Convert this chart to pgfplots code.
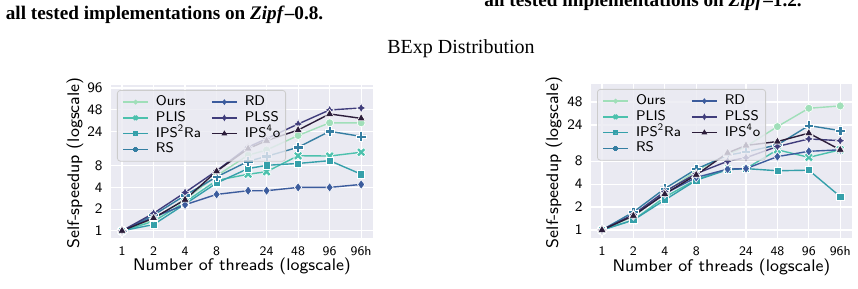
\documentclass[border=0pt]{standalone}
\usepackage{fontspec}
\usepackage{pgfplots}
\usepackage{pgfplotstable}
\pgfplotsset{compat=1.18}
\newfontfamily\capfont{Liberation Serif}

\definecolor{bgc}{HTML}{EAEAF2}
\definecolor{legedge}{HTML}{CCCCCC}
\definecolor{cOurs}{HTML}{A0DFB9}
\definecolor{cPLIS}{HTML}{4CC1AD}
\definecolor{cIPSRa}{HTML}{35A0AA}
\definecolor{cRS}{HTML}{357EA2}
\definecolor{cRD}{HTML}{3C5C9D}
\definecolor{cPLSS}{HTML}{403D7C}
\definecolor{cIPSo}{HTML}{2C1D3A}

% filled plus
\pgfdeclareplotmark{Pfill}{%
  \pgfpathmoveto{\pgfqpoint{-0.333\pgfplotmarksize}{-\pgfplotmarksize}}%
  \pgfpathlineto{\pgfqpoint{0.333\pgfplotmarksize}{-\pgfplotmarksize}}%
  \pgfpathlineto{\pgfqpoint{0.333\pgfplotmarksize}{-0.333\pgfplotmarksize}}%
  \pgfpathlineto{\pgfqpoint{\pgfplotmarksize}{-0.333\pgfplotmarksize}}%
  \pgfpathlineto{\pgfqpoint{\pgfplotmarksize}{0.333\pgfplotmarksize}}%
  \pgfpathlineto{\pgfqpoint{0.333\pgfplotmarksize}{0.333\pgfplotmarksize}}%
  \pgfpathlineto{\pgfqpoint{0.333\pgfplotmarksize}{\pgfplotmarksize}}%
  \pgfpathlineto{\pgfqpoint{-0.333\pgfplotmarksize}{\pgfplotmarksize}}%
  \pgfpathlineto{\pgfqpoint{-0.333\pgfplotmarksize}{0.333\pgfplotmarksize}}%
  \pgfpathlineto{\pgfqpoint{-\pgfplotmarksize}{0.333\pgfplotmarksize}}%
  \pgfpathlineto{\pgfqpoint{-\pgfplotmarksize}{-0.333\pgfplotmarksize}}%
  \pgfpathlineto{\pgfqpoint{-0.333\pgfplotmarksize}{-0.333\pgfplotmarksize}}%
  \pgfpathclose\pgfusepathqfillstroke}
% filled cross
\pgfdeclareplotmark{Xfill}{%
  \pgfpathmoveto{\pgfqpoint{-0.5\pgfplotmarksize}{-\pgfplotmarksize}}%
  \pgfpathlineto{\pgfqpoint{0pt}{-0.5\pgfplotmarksize}}%
  \pgfpathlineto{\pgfqpoint{0.5\pgfplotmarksize}{-\pgfplotmarksize}}%
  \pgfpathlineto{\pgfqpoint{\pgfplotmarksize}{-0.5\pgfplotmarksize}}%
  \pgfpathlineto{\pgfqpoint{0.5\pgfplotmarksize}{0pt}}%
  \pgfpathlineto{\pgfqpoint{\pgfplotmarksize}{0.5\pgfplotmarksize}}%
  \pgfpathlineto{\pgfqpoint{0.5\pgfplotmarksize}{\pgfplotmarksize}}%
  \pgfpathlineto{\pgfqpoint{0pt}{0.5\pgfplotmarksize}}%
  \pgfpathlineto{\pgfqpoint{-0.5\pgfplotmarksize}{\pgfplotmarksize}}%
  \pgfpathlineto{\pgfqpoint{-\pgfplotmarksize}{0.5\pgfplotmarksize}}%
  \pgfpathlineto{\pgfqpoint{-0.5\pgfplotmarksize}{0pt}}%
  \pgfpathlineto{\pgfqpoint{-\pgfplotmarksize}{-0.5\pgfplotmarksize}}%
  \pgfpathclose\pgfusepathqfillstroke}
% four-pointed star
\pgfdeclareplotmark{star4}{%
  \pgfpathmoveto{\pgfqpoint{0pt}{\pgfplotmarksize}}%
  \pgfpathlineto{\pgfqpoint{-0.354\pgfplotmarksize}{0.354\pgfplotmarksize}}%
  \pgfpathlineto{\pgfqpoint{-\pgfplotmarksize}{0pt}}%
  \pgfpathlineto{\pgfqpoint{-0.354\pgfplotmarksize}{-0.354\pgfplotmarksize}}%
  \pgfpathlineto{\pgfqpoint{0pt}{-\pgfplotmarksize}}%
  \pgfpathlineto{\pgfqpoint{0.354\pgfplotmarksize}{-0.354\pgfplotmarksize}}%
  \pgfpathlineto{\pgfqpoint{\pgfplotmarksize}{0pt}}%
  \pgfpathlineto{\pgfqpoint{0.354\pgfplotmarksize}{0.354\pgfplotmarksize}}%
  \pgfpathclose\pgfusepathqfillstroke}

% self-speedup, Zipf-0.8
\pgfplotstableread{
x    Ours  PLIS  IPSRa RS    RD   PLSS  IPSo
1    1     1     1     1     1    1     1
2    1.45  1.35  1.22  1.65  1.55 1.75  1.50
4    2.75  2.5   2.35  3.1   2.3  3.4   2.7
8    5.8   5.0   4.6   5.6   3.2  6.8   6.7
16   11.2  6.1   7.3   9.2   3.6  14.5  13.8
24   13.2  6.6   8.1   10.8  3.6  19.0  17.8
48   21.0  11.0  8.6   14.4  4.0  30.3  25.0
96   31.5  10.9  9.4   24.0  4.0  47.5  41.8
192  31.5  12.3  6.1   20.4  4.4  50.6  36.3
}\zipfA
% self-speedup, Zipf-1.2
\pgfplotstableread{
x    Ours  PLIS  IPSRa RS    RD   PLSS  IPSo
1    1     1     1     1     1    1     1
2    1.5   1.35  1.35  1.72  1.55 1.6   1.54
4    3.1   2.7   2.48  3.5   3.0  3.2   2.97
8    6.0   4.6   4.5   6.3   4.9  5.5   5.3
16   9.8   6.3   6.2   9.6   6.3  8.0   10.3
24   12.5  6.4   6.4   10.6  6.4  8.9   12.9
48   22.8  11.3  6.0   13.1  9.2  12.5  14.5
96   39.7  9.0   6.1   23.5  10.8 15.7  18.7
192  42.6  11.3  2.75  20.2  11.3 14.9  11.3
}\zipfB

% options shared by both panels
\pgfplotsset{every axis/.append style={
    scale only axis,
    xmin=0.785, xmax=249,
    xtick={1,2,4,8,24,48,96,192},
    xticklabels={1,2,4,8,24,48,96,96h},
    axis background/.style={fill=bgc},
    grid=major, major grid style={white, line width=0.6pt},
    axis line style={draw=none},
    major tick length=0pt, minor tick length=0pt,
    tick label style={inner sep=0pt},
    xticklabel style={font=\sffamily\fontsize{6.5}{7.5}\selectfont, anchor=center, yshift=-6.5pt},
    yticklabel style={font=\sffamily\fontsize{7.2}{8}\selectfont, anchor=east, xshift=-4pt},
    label style={font=\sffamily\fontsize{8.4}{10}\selectfont},
    xlabel style={at={(axis description cs:0.5,-0.188)}, anchor=center},
    legend columns=2,
    legend cell align=left,
    legend style={at={(0,1)}, anchor=north west, xshift=3pt, yshift=-2.5pt,
      fill=bgc, fill opacity=0.8, draw=legedge, draw opacity=1, text opacity=1,
      line width=0.4pt, rounded corners=1.5pt, inner sep=2pt,
      font=\sffamily\fontsize{7}{8}\selectfont,
      nodes={inner sep=0.6pt, text height=5pt, text depth=1.5pt},
      row sep=0.2pt,
      /tikz/every even column/.append style={column sep=4pt}},
  },
  every axis plot/.append style={line width=0.7pt},
  legend image code/.code={%
    \path (-0.5pt,0pt) (15.5pt,0pt);
    \draw[mark repeat=2, mark phase=2] plot coordinates {(0pt,0pt) (6.25pt,0pt) (12.5pt,0pt)};},
}

\newcommand\legendentries{%
  \addlegendimage{color=cOurs, mark=*, mark size=0.8pt, mark options={draw=none, fill=cOurs}}\addlegendentry{Ours}
  \addlegendimage{color=cRD, mark=diamond*, mark size=0.9pt, mark options={draw=none, fill=cRD}}\addlegendentry{RD}
  \addlegendimage{color=cPLIS, mark=Xfill, mark size=0.9pt, mark options={draw=none, fill=cPLIS}}\addlegendentry{PLIS}
  \addlegendimage{color=cPLSS, mark=star4, mark size=1pt, mark options={draw=none, fill=cPLSS}}\addlegendentry{PLSS}
  \addlegendimage{color=cIPSRa, mark=square*, mark size=0.8pt, mark options={draw=none, fill=cIPSRa}}\addlegendentry{IPS\textsuperscript{2}Ra}
  \addlegendimage{color=cIPSo, mark=triangle*, mark size=1pt, mark options={draw=none, fill=cIPSo}}\addlegendentry{IPS\textsuperscript{4}o}
  \addlegendimage{color=cRS, mark=Pfill, mark size=1pt, mark options={draw=none, fill=cRS}}\addlegendentry{RS}
}

\newcommand\speedupplots[1]{%
  \addplot[color=cOurs, mark=*, mark size=2pt, mark options={draw=white, fill=cOurs, line width=0.3pt}, forget plot] table[x=x, y=Ours] {#1};
  \addplot[color=cPLIS, mark=Xfill, mark size=2.3pt, mark options={draw=white, fill=cPLIS, line width=0.3pt}, forget plot] table[x=x, y=PLIS] {#1};
  \addplot[color=cIPSRa, mark=square*, mark size=1.8pt, mark options={draw=white, fill=cIPSRa, line width=0.3pt}, forget plot] table[x=x, y=IPSRa] {#1};
  \addplot[color=cRS, mark=Pfill, mark size=2.4pt, mark options={draw=white, fill=cRS, line width=0.3pt}, forget plot] table[x=x, y=RS] {#1};
  \addplot[color=cRD, mark=diamond*, mark size=2.4pt, mark options={draw=white, fill=cRD, line width=0.3pt}, forget plot] table[x=x, y=RD] {#1};
  \addplot[color=cPLSS, mark=star4, mark size=2.4pt, mark options={draw=white, fill=cPLSS, line width=0.3pt}, forget plot] table[x=x, y=PLSS] {#1};
  \addplot[color=cIPSo, mark=triangle*, mark size=2.4pt, mark options={draw=white, fill=cIPSo, line width=0.3pt}, forget plot] table[x=x, y=IPSo] {#1};
}

\begin{document}
\begin{tikzpicture}
\path[use as bounding box] (0pt,0pt) rectangle (429pt,144.5pt);

\node[anchor=base west, font=\capfont\bfseries\fontsize{9.6}{11}\selectfont, inner sep=0pt]
  at (2.75pt,134.5pt) {all tested implementations on \textit{Zipf}\textendash0.8.};
\node[anchor=base west, font=\capfont\bfseries\fontsize{9.6}{11}\selectfont, inner sep=0pt]
  at (242pt,141pt) {all tested implementations on \textit{Zipf}\textendash1.2.};
\node[anchor=center, font=\capfont\fontsize{10}{12}\selectfont, inner sep=0pt]
  at (230.5pt,120.3pt) {BExp Distribution};

\begin{axis}[
  xmode=log, log basis x=2, ymode=log, log basis y=2,
  at={(55.5pt,25.5pt)}, anchor=south west,
  width=131pt, height=76.5pt,
  ymin=0.795, ymax=105.4,
  ytick={1,2,4,8,24,48,96},
  yticklabels={1,2,4,8,24,48,96},
  xlabel={Number of threads (logscale)},
  ylabel={Self-speedup (logscale)},
  ylabel style={at={(axis description cs:-0.1374,0.49)}, anchor=center}]
\speedupplots{\zipfA}
\legendentries
\end{axis}

\begin{axis}[
  xmode=log, log basis x=2, ymode=log, log basis y=2,
  at={(295.5pt,25.5pt)}, anchor=south west,
  width=130.5pt, height=77pt,
  ymin=0.785, ymax=82.7,
  ytick={1,2,4,8,24,48},
  yticklabels={1,2,4,8,24,48},
  xlabel={Number of threads (logscale)},
  ylabel={Self-speedup (logscale)},
  ylabel style={at={(axis description cs:-0.1418,0.49)}, anchor=center}]
\speedupplots{\zipfB}
\legendentries
\end{axis}
\end{tikzpicture}
\end{document}
